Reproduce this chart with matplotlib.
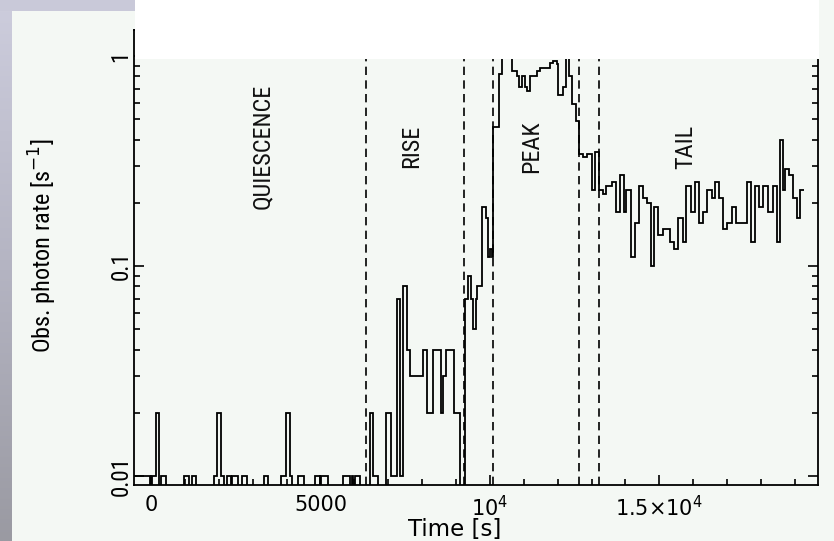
import matplotlib
matplotlib.use('Agg')
import matplotlib.pyplot as plt
import numpy as np
from matplotlib import font_manager
from matplotlib.patches import Rectangle
from matplotlib.ticker import MultipleLocator, LogLocator, NullFormatter

# ---- data ----
edges = [-470, -30, 30, 150, 240, 300, 440, 970, 1120, 1210, 1330, 1860, 1950, 2060, 2150,
         2240, 2370, 2400, 2570, 2680, 2830, 3330, 3450, 3830, 3980, 4100, 4160, 4340, 4510,
         4840, 4990, 5030, 5220, 5660, 5870, 5930, 5960, 6020, 6170, 6460, 6550, 6700, 6930,
         7080, 7260, 7340, 7430, 7550, 7640, 8030, 8140, 8320, 8550, 8620, 8700, 8940, 9120,
         9260, 9350, 9430, 9500, 9580, 9620, 9760, 9880, 9930, 10000, 10060, 10100, 10270,
         10345, 10450, 10550, 10640, 10790, 10865, 10935, 11030, 11080, 11180, 11380, 11475,
         11770, 11870, 11970, 12015, 12165, 12240, 12340, 12410, 12540, 12635, 12755, 12870,
         13000, 13100, 13225, 13325, 13440, 13590, 13720, 13835, 13955, 14030, 14150, 14280,
         14405, 14520, 14640, 14740, 14840, 14965, 15095, 15310, 15440, 15555, 15685, 15800,
         15920, 16050, 16175, 16295, 16410, 16540, 16640, 16765, 16885, 17000, 17130, 17260,
         17575, 17690, 17820, 17945, 18065, 18210, 18340, 18460, 18555, 18635, 18700, 18830,
         18930, 19050, 19150, 19265]
rates = [0.01, 0, 0.01, 0.02, 0, 0.01, 0, 0.01, 0, 0.01, 0, 0.01, 0.02, 0.01, 0,
         0.01, 0, 0.01, 0, 0.01, 0, 0.01, 0, 0.01, 0.02, 0.01, 0, 0.01, 0,
         0.01, 0, 0.01, 0, 0.01, 0, 0.01, 0, 0.01, 0, 0.02, 0.01, 0, 0.02,
         0.01, 0.07, 0.01, 0.08, 0.04, 0.03, 0.04, 0.02, 0.04, 0.02, 0.03, 0.04, 0.02, 0,
         0.07, 0.09, 0.07, 0.05, 0.07, 0.08, 0.19, 0.17, 0.11, 0.12, 0.11, 0.46, 0.82,
         1.2, 1.3, 1.1, 0.85, 0.8, 0.71, 0.8, 0.71, 0.68, 0.8, 0.85, 0.88,
         0.93, 0.95, 0.92, 0.65, 0.71, 1.1, 0.8, 0.59, 0.49, 0.34, 0.33, 0.34,
         0.23, 0.35, 0.23, 0.22, 0.24, 0.25, 0.18, 0.27, 0.18, 0.23, 0.11, 0.16,
         0.24, 0.21, 0.2, 0.1, 0.19, 0.14, 0.15, 0.13, 0.12, 0.17, 0.13, 0.24,
         0.18, 0.25, 0.16, 0.18, 0.23, 0.21, 0.25, 0.21, 0.15, 0.16, 0.19, 0.16,
         0.25, 0.13, 0.24, 0.19, 0.24, 0.18, 0.24, 0.13, 0.4, 0.23, 0.29, 0.27,
         0.21, 0.17, 0.23]

phase_bounds = [6340, 9235, 10100, 12635, 13225]
phase_names = ['QUIESCENCE', 'RISE', 'PEAK', 'TAIL']
phase_label_t = [3275, 7700, 11240, 15790]
phase_label_rate = 0.37

xtick_vals = [0, 5000, 10000, 15000]
xtick_labels = ['0', '5000', r'10$^4$', '1.5\u00d710$^4$']
ytick_vals = [0.01, 0.1, 1]
ytick_labels = ['0.01', '0.1', '1']

# ---- fonts: prefer a condensed face for the rotated texts ----
names = {f.name for f in font_manager.fontManager.ttflist}
condensed = None
for cand in ['Liberation Sans Narrow', 'DejaVu Sans Condensed', 'Roboto Condensed',
             'Open Sans Condensed', 'Noto Sans Condensed']:
    if cand in names:
        condensed = dict(family=cand)
        break
if condensed is None:
    for f in font_manager.fontManager.ttflist:
        if f.name in ('DejaVu Sans', 'Noto Sans', 'Open Sans') and \
                str(f.stretch) in ('condensed', 'semi-condensed', '87.5', '75'):
            condensed = dict(family=f.name, stretch=f.stretch)
            break
if condensed is not None:
    rot_font, rsize = condensed, 17.5
else:
    rot_font, rsize = dict(family='DejaVu Sans'), 13.5

W, H = 834, 541
bg = '#f4f8f4'
fig = plt.figure(figsize=(W / 100, H / 100), dpi=100, facecolor=bg)

# slide background strips
strip = fig.add_axes([0, 0, 12 / W, 1], zorder=-5)
grad = np.linspace(0, 1, 256).reshape(-1, 1)
strip.imshow(grad, aspect='auto', cmap=matplotlib.colors.LinearSegmentedColormap.from_list(
    'g', ['#cdcddd', '#b4b4c2', '#9a9aa2']), extent=[0, 1, 0, 1])
strip.set_axis_off()
fig.add_artist(Rectangle((0, 1 - 11 / H), 135 / W, 11 / H, transform=fig.transFigure,
                         facecolor='#c9c9d9', edgecolor='none', zorder=-4))

ax = fig.add_axes([134 / W, (H - 485) / H, (818 - 134) / W, (485 - 30) / H])
ax.set_facecolor(bg)
ax.set_yscale('log')
ax.set_xlim(-500, 19680)
ax.set_ylim(10 ** (-2 - 9 / 210), 10 ** (26 / 210))

ax.stairs(rates, edges, baseline=None, color='black', linewidth=1.3)
for t in phase_bounds:
    ax.axvline(t, color='black', linewidth=1.2, linestyle=(0, (5, 3.2)))
for name, t in zip(phase_names, phase_label_t):
    ax.text(t, phase_label_rate, name, rotation=90, ha='center', va='center',
            fontsize=rsize, color='#111111', **rot_font)

for s in ax.spines.values():
    s.set_linewidth(1.3)
ax.set_xticks(xtick_vals, xtick_labels, fontsize=15, family='DejaVu Sans')
ax.xaxis.set_minor_locator(MultipleLocator(1000))
ax.set_yticks(ytick_vals, ytick_labels, rotation=90, va='center')
for lab in ax.get_yticklabels():
    lab.set_fontproperties(font_manager.FontProperties(size=rsize - 1, **rot_font))
ax.yaxis.set_minor_locator(LogLocator(base=10, subs=range(2, 10)))
ax.yaxis.set_minor_formatter(NullFormatter())
ax.tick_params(which='both', direction='in', top=True, right=True, width=1.2, color='black')
ax.tick_params(which='major', length=7.5)
ax.tick_params(which='minor', length=4)
ax.tick_params(axis='x', pad=7)
ax.tick_params(axis='y', pad=1)

ax.set_xlabel('Time [s]', fontsize=16.5, family='DejaVu Sans')
ax.xaxis.set_label_coords((455 - 134) / 684, (485 - 536) / 455)
ax.xaxis.label.set_va('baseline')
ax.set_ylabel('Obs. photon rate [s$^{-1}$]', fontsize=rsize, **rot_font)
ax.yaxis.set_label_coords((43 - 134) / 684, (485 - 246) / 455)
ax.yaxis.label.set_va('center')

# white box covering the top of the plot
fig.add_artist(Rectangle((135 / W, 1 - 59 / H), (819 - 135) / W, 59 / H,
                         transform=fig.transFigure, facecolor='white',
                         edgecolor='none', zorder=10))

fig.savefig('out.png', dpi=100, facecolor=fig.get_facecolor())
